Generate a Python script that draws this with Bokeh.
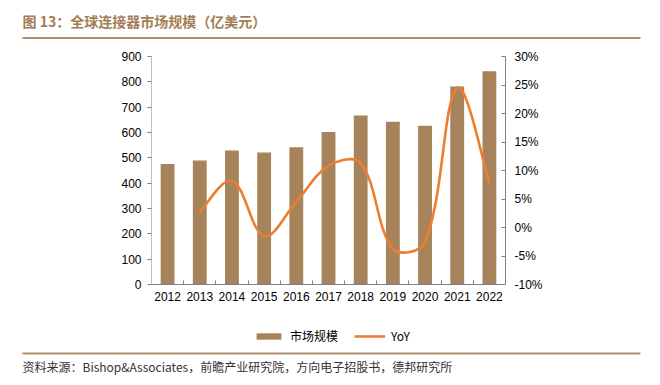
import math
from bokeh.plotting import figure
from bokeh.models import (Range1d, LinearAxis, FixedTicker, NumeralTickFormatter,
                          Legend, LegendItem, Label, BoxAnnotation)
from bokeh.embed import file_html
from bokeh.resources import INLINE

# ---------------- data ----------------
years = [2012, 2013, 2014, 2015, 2016, 2017, 2018, 2019, 2020, 2021, 2022]
market = [476, 489, 529, 521, 542, 602, 667, 642, 627, 782, 842]
yoy_years = [2013, 2014, 2015, 2016, 2017, 2018, 2019, 2020, 2021, 2022]
yoy = [0.027, 0.082, -0.015, 0.045, 0.108, 0.113, -0.037, -0.026, 0.245, 0.078]
left_ticks = [0, 100, 200, 300, 400, 500, 600, 700, 800, 900]
right_ticks = [-0.10, -0.05, 0.0, 0.05, 0.10, 0.15, 0.20, 0.25, 0.30]
title_text = "图 13：全球连接器市场规模（亿美元）"
source_text = "资料来源：Bishop&Associates，前瞻产业研究院，方向电子招股书，德邦研究所"
bar_label = "市场规模"
line_label = "YoY"

BAR = "#A6835A"
ORANGE = "#ED7D31"
BROWN = "#A27D56"
RULE = "#B08F6A"
TICK_FONT = "Liberation Sans"
CJK = "Noto Sans CJK SC"

# ---------------- geometry (canvas pixels) ----------------
W, H = 652, 377
FL, FR, FT, FB = 151, 505, 56, 284      # plot-area edges
XA, XB = 2011.5, 2022.5                 # category extent
YA, YB = 0, 900                         # left axis extent
RA, RB = -0.10, 0.30                    # right axis extent
sx = (XB - XA) / (FR - FL)              # data per pixel
sy = (YB - YA) / (FB - FT)
sr = (RB - RA) / (FB - FT)


def px(cx):
    return XA + (cx - FL) * sx


def py(cy):
    return YA + (FB - cy) * sy


def smooth_segments(xs, ys, s=0.36):
    """Bezier control points for a smoothed line (tangents scaled by segment lengths)."""
    n = len(xs)
    P = [(x / sx, y / sr) for x, y in zip(xs, ys)]          # in pixel space
    d = [math.dist(P[i], P[i + 1]) for i in range(n - 1)]
    out = dict(x0=[], y0=[], x1=[], y1=[], cx0=[], cy0=[], cx1=[], cy1=[])
    for i in range(n - 1):
        ip, inn = max(i - 1, 0), min(i + 2, n - 1)
        dprev = d[i - 1] if i > 0 else d[i]
        dnext = d[i + 1] if i + 1 < n - 1 else d[i]
        f0 = s * d[i] / (dprev + d[i])
        f1 = s * d[i] / (d[i] + dnext)
        out["x0"].append(xs[i]); out["y0"].append(ys[i])
        out["x1"].append(xs[i + 1]); out["y1"].append(ys[i + 1])
        out["cx0"].append(xs[i] + (xs[i + 1] - xs[ip]) * f0)
        out["cy0"].append(ys[i] + (ys[i + 1] - ys[ip]) * f0)
        out["cx1"].append(xs[i + 1] - (xs[inn] - xs[i]) * f1)
        out["cy1"].append(ys[i + 1] - (ys[inn] - ys[i]) * f1)
    return out


p = figure(width=W, height=H,
           x_range=Range1d(px(0), px(W)), y_range=Range1d(py(H), py(0)),
           output_backend="svg", toolbar_location=None, min_border=0)
p.grid.visible = False
p.outline_line_color = None
p.extra_y_ranges = {"yoy": Range1d(RA - (H - FB) * sr, RB + FT * sr)}

bars = p.vbar(x=years, top=market, width=0.43, fill_color=BAR, line_color=None)
seg = smooth_segments(yoy_years, yoy)
curve = p.bezier(x0=seg["x0"], y0=seg["y0"], x1=seg["x1"], y1=seg["y1"],
                 cx0=seg["cx0"], cy0=seg["cy0"], cx1=seg["cx1"], cy1=seg["cy1"],
                 y_range_name="yoy", line_color=ORANGE, line_width=2.6)

# x axis
xa = p.xaxis[0]
xa.fixed_location = YA
xa.bounds = (XA, XB)
xa.ticker = FixedTicker(ticks=years, minor_ticks=[y - 0.5 for y in years] + [years[-1] + 0.5])
xa.major_tick_in = 0
xa.major_tick_out = 0
xa.minor_tick_in = 4
xa.minor_tick_out = 0
xa.minor_tick_line_color = "#808080"
xa.axis_line_color = "#808080"
xa.major_label_standoff = 7
xa.major_label_text_font = TICK_FONT
xa.major_label_text_font_size = "12px"
xa.major_label_text_color = "#000000"

# left axis
ya = p.yaxis[0]
ya.fixed_location = XA
ya.bounds = (YA, YB)
ya.ticker = FixedTicker(ticks=left_ticks)
ya.major_tick_in = 0
ya.major_tick_out = 4
ya.minor_tick_out = 0
ya.minor_tick_in = 0
ya.axis_line_color = "#BFBFBF"
ya.major_tick_line_color = "#808080"
ya.major_label_standoff = 6
ya.major_label_text_font = TICK_FONT
ya.major_label_text_font_size = "12px"
ya.major_label_text_color = "#000000"

# right axis
ra = LinearAxis(y_range_name="yoy", ticker=FixedTicker(ticks=right_ticks),
                formatter=NumeralTickFormatter(format="0%"),
                fixed_location=XB, bounds=(RA, RB))
ra.major_tick_in = 4
ra.major_tick_out = 0
ra.minor_tick_in = 0
ra.minor_tick_out = 0
ra.axis_line_color = "#808080"
ra.major_tick_line_color = "#808080"
ra.major_label_standoff = 9
ra.major_label_text_font = TICK_FONT
ra.major_label_text_font_size = "12px"
ra.major_label_text_color = "#000000"
p.add_layout(ra, "right")

legend = Legend(items=[LegendItem(label=bar_label, renderers=[bars]),
                       LegendItem(label=line_label, renderers=[curve])],
                orientation="horizontal", location=(253, H - 344),
                glyph_width=31, glyph_height=8, label_standoff=6, spacing=16,
                label_text_font=CJK, label_text_font_size="12px",
                label_text_color="#000000",
                border_line_color=None, background_fill_alpha=0,
                margin=0, padding=8)
p.add_layout(legend, "center")

# title, rules and source note
p.add_layout(Label(x=px(22), y=py(20.5), text=title_text, text_font=CJK,
                   text_font_style="bold", text_font_size="14px", text_color=BROWN,
                   text_baseline="middle", text_align="left"))
p.add_layout(BoxAnnotation(left=px(22), right=px(640), top=py(36.5), bottom=py(38.5),
                           fill_color=RULE, fill_alpha=1, line_color=None))
p.add_layout(BoxAnnotation(left=px(22), right=px(640), top=py(352), bottom=py(354),
                           fill_color=RULE, fill_alpha=1, line_color=None))
p.add_layout(Label(x=px(22), y=py(366), text=source_text, text_font=CJK,
                   text_font_size="12px", text_color="#333333",
                   text_baseline="middle", text_align="left"))

open("out.html", "w").write(file_html(p, INLINE))
